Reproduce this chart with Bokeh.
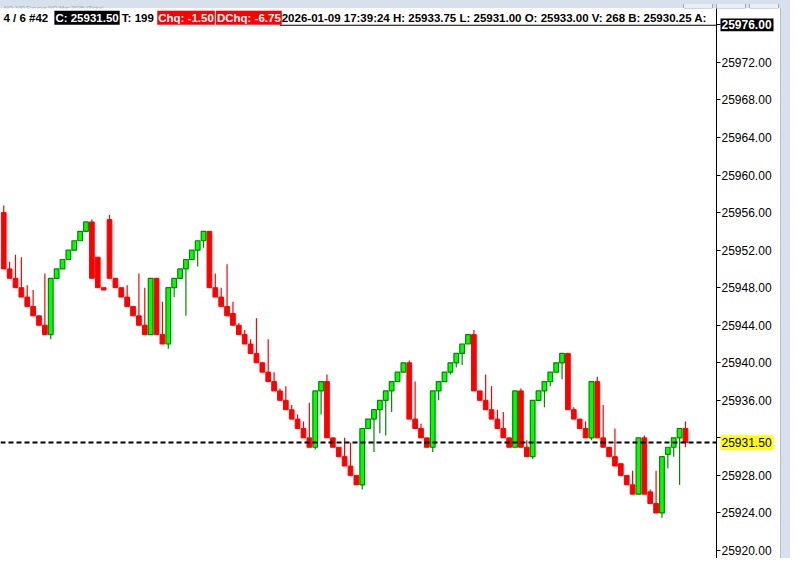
from bokeh.plotting import figure
from bokeh.models import Range1d, Span, Label, FixedTicker, Div, BoxAnnotation, ColumnDataSource
from bokeh.layouts import column, row
from bokeh.core.properties import value
from bokeh.embed import file_html
from bokeh.resources import INLINE

# ---- data (renko-style bars) ----
opens = [25956, 25950, 25949, 25948, 25947, 25946, 25945, 25944, 25943, 25949,
         25950, 25951, 25952, 25953, 25954, 25955, 25951.25, 25948, 25955.25, 25949,
         25948, 25947, 25946, 25945, 25944, 25943, 25949, 25943, 25942, 25948,
         25949, 25950, 25951, 25952, 25953, 25954, 25948, 25947, 25946, 25945.25,
         25944, 25943, 25942, 25941, 25940, 25939, 25938, 25937, 25936, 25935,
         25934, 25933, 25932, 25931, 25937, 25938, 25932, 25931, 25930, 25929,
         25928, 25927, 25933, 25934, 25935, 25936, 25937, 25938, 25939, 25940,
         25934, 25933, 25932, 25931, 25937, 25938, 25939, 25940, 25941, 25942,
         25943, 25937, 25936, 25935, 25934, 25933, 25932, 25931, 25937, 25931,
         25930, 25936, 25937, 25938, 25939, 25940, 25941, 25935, 25934, 25933,
         25932, 25938, 25932, 25931, 25930, 25929.25, 25928, 25927, 25926, 25932,
         25926.25, 25925, 25924, 25930.25, 25931, 25932, 25933]
closes = [25950, 25949, 25948, 25947, 25946, 25945, 25944, 25943, 25949, 25950,
          25951, 25952, 25953, 25954, 25955, 25949, 25948, 25947.75, 25949, 25948,
          25947, 25946, 25945, 25944, 25943, 25949, 25943, 25942, 25948, 25949,
          25950, 25951, 25952, 25953, 25954, 25948, 25947, 25946, 25945, 25944,
          25943, 25942, 25941, 25940, 25939, 25938, 25937, 25936, 25935, 25934,
          25933, 25932, 25931, 25937, 25938, 25932, 25931, 25930, 25929, 25928,
          25927, 25933, 25934, 25935, 25936, 25937, 25938, 25939, 25940, 25934,
          25933, 25932, 25931, 25937, 25938, 25939, 25940, 25941, 25942, 25943,
          25937, 25936, 25935, 25934, 25933, 25932, 25931, 25937, 25931, 25930,
          25936, 25937, 25938, 25939, 25940, 25941, 25935, 25934, 25933, 25932,
          25938, 25932, 25931, 25930, 25929, 25928, 25927, 25926, 25932, 25926,
          25925, 25924, 25930, 25931, 25932, 25933, 25931.5]
highs = [25956.75, 25950.75, 25951.5, 25951.25, 25948.25, 25947.75, 25945, 25949.5, 25949, 25950,
         25951, 25952, 25953, 25954, 25955, 25955.25, 25951.25, 25948, 25955.75, 25949,
         25948, 25948.25, 25946, 25949.5, 25948, 25949, 25949, 25946.5, 25948, 25949,
         25950, 25951, 25952, 25953, 25954, 25954, 25949.5, 25948, 25950.5, 25946.5,
         25944.25, 25943.5, 25942.5, 25944.75, 25940, 25942.5, 25939, 25937.25, 25937.5, 25935.5,
         25934.5, 25933.75, 25935.75, 25937, 25938, 25938.75, 25932, 25931, 25932, 25931.5,
         25928, 25933, 25934, 25935, 25936, 25937, 25938, 25939, 25940, 25940.25,
         25938, 25933.5, 25932, 25937, 25938, 25939, 25940, 25941, 25942, 25943,
         25943.5, 25937, 25938.75, 25937.5, 25935, 25934.75, 25932, 25937, 25937.25, 25931.75,
         25936, 25937, 25938, 25939, 25940, 25941, 25941, 25935.25, 25934, 25933.75,
         25938, 25938.5, 25935.5, 25931, 25933, 25929.25, 25928, 25928.5, 25932, 25932.25,
         25926.5, 25928.5, 25930, 25931, 25932, 25933, 25933.75]
lows = [25950, 25949, 25948, 25947, 25946, 25945, 25944, 25943, 25942.5, 25949,
        25950, 25951, 25952, 25953, 25954, 25949, 25948, 25947.75, 25949, 25948,
        25947, 25946, 25945, 25944, 25943, 25943, 25943, 25942, 25941.5, 25947,
        25949, 25945, 25951, 25950.25, 25952.25, 25948, 25947, 25946, 25945, 25944,
        25943, 25942, 25941, 25940, 25939, 25938, 25937, 25936, 25935, 25934,
        25933, 25932, 25931, 25930.75, 25934.5, 25932, 25931, 25930, 25929, 25928,
        25927, 25926.5, 25933, 25930.5, 25932.5, 25932.25, 25934.75, 25938, 25939, 25934,
        25933, 25932, 25931, 25930.5, 25936, 25938, 25938.75, 25939.5, 25939.75, 25942,
        25937, 25936, 25935, 25934, 25933, 25932, 25931, 25931, 25931, 25930,
        25929.75, 25936, 25935.25, 25937.5, 25939, 25938.25, 25935, 25934, 25933, 25932,
        25931.75, 25932, 25931, 25930, 25929, 25928, 25927, 25926, 25926, 25926,
        25925, 25924, 25923.5, 25928.75, 25930, 25927, 25931]

y_ticks = [25920, 25924, 25928, 25932, 25936, 25940, 25944, 25948, 25952,
           25956, 25960, 25964, 25968, 25972, 25976]
last_price = 25931.50
top_price = 25976.00
header_plain_1 = "4 / 6 #42"
header_close = "C: 25931.50"
header_ticks = "T: 199"
header_chg = "Chq: -1.50"
header_dchg = "DChq: -6.75"
header_rest = "2026-01-09 17:39:24 H: 25933.75 L: 25931.00 O: 25933.00 V: 268 B: 25930.25 A:"
title_text = "NQ 100 Futures  NQ Mar 2026 (Ticks)"

# ---- build ----
idx = list(range(len(opens)))
up = [c >= o for o, c in zip(opens, closes)]
RED = "#ff0000"
GREEN = "#00ff00"
DKGREEN = "#008a00"
FONT = "Liberation Sans"

def subset(flag):
    sel = [i for i in idx if up[i] == flag]
    return ColumnDataSource(dict(
        x=sel,
        top=[max(opens[i], closes[i]) for i in sel],
        bot=[min(opens[i], closes[i]) for i in sel],
        hi=[highs[i] for i in sel],
        lo=[lows[i] for i in sel],
    ))

src_up = subset(True)
src_dn = subset(False)

H = 550
yr = Range1d(25919.15, 25977.74)
p = figure(width=716, height=H, output_backend="svg", toolbar_location=None,
           x_range=Range1d(-0.55, 121.28), y_range=yr,
           x_axis_location=None, y_axis_location=None, tools="")
p.min_border = 0
p.outline_line_color = None
p.grid.visible = False

# wicks
p.segment(x0="x", y0="lo", x1="x", y1="hi", source=src_dn, line_color=RED, line_width=1.2)
p.segment(x0="x", y0="lo", x1="x", y1="hi", source=src_up, line_color=DKGREEN, line_width=1.2)
# bodies
p.vbar(x="x", top="top", bottom="bot", width=0.8, source=src_dn,
       fill_color=RED, line_color=RED, line_width=1)
p.vbar(x="x", top="top", bottom="bot", width=0.8, source=src_up,
       fill_color=GREEN, line_color=DKGREEN, line_width=1.2)

# last price dashed line
p.add_layout(Span(location=last_price, dimension="width", line_color="black",
                  line_width=2, line_dash="5 3"))

# header line
hy = 25976.75
def hl(x, text, color="black", bg=None):
    kw = dict(x=x, y=hy, text=text, text_font=FONT, text_font_size="11.5px",
              text_font_style="bold", text_color=color, text_baseline="middle",
              text_align="left")
    if bg is not None:
        kw.update(background_fill_color=bg, padding=1)
    p.add_layout(Label(**kw))

hl(-0.05, header_plain_1)
hl(8.62, header_close, "white", "black")
hl(20.1, header_ticks)
hl(26.12, header_chg, "white", RED)
hl(36.1, header_dchg, "white", RED)
hl(47.3, header_rest)
p.add_layout(BoxAnnotation(left=47.0, right=121.3, top=25976.02, bottom=25975.90,
                           fill_color="black", fill_alpha=1, line_color=None))

# ---- price scale panel (shares the y range) ----
q = figure(width=64, height=H, output_backend="svg", toolbar_location=None,
           x_range=Range1d(0, 64), y_range=yr, x_axis_location=None,
           y_axis_location="left", tools="")
q.min_border = 0
q.outline_line_color = None
q.grid.visible = False
ax = q.yaxis[0]
ax.ticker = FixedTicker(ticks=y_ticks)
ax.major_label_overrides = {t: "" for t in y_ticks}
ax.major_label_standoff = 0
ax.major_label_text_font_size = "1px"
ax.major_tick_in = 4
ax.major_tick_out = 0
ax.minor_tick_in = 0
ax.minor_tick_out = 0
ax.axis_line_color = "black"
ax.major_tick_line_color = "black"

shown = [t for t in y_ticks if t not in (25932, top_price)]
q.text(x=[5] * len(shown), y=shown, text=[f"{t:.2f}" for t in shown],
       text_font=value(FONT), text_font_size="12px", text_color="black",
       text_baseline="middle", text_align="left")

hi_src = ColumnDataSource(dict(
    y=[top_price, last_price],
    top=[top_price + 0.68, last_price + 0.78],
    bot=[top_price - 0.68, last_price - 0.78],
    text=[f"{top_price:.2f}", f"{last_price:.2f}"],
    fill=["black", "#ffff00"],
    color=["white", "black"],
    style=["bold", "normal"],
))
q.quad(left=4, right=57, top="top", bottom="bot", fill_color="fill", line_color=None, source=hi_src)
q.text(x=5, y="y", text="text", text_color="color", text_font_style="style",
       text_font=value(FONT), text_font_size="12px", text_baseline="middle",
       text_align="left", source=hi_src)

band_html = (
    '<div style="position:relative;width:790px;height:8px;">'
    '<span style="position:absolute;left:4px;top:1px;font-family:\'Liberation Sans\';font-size:6px;line-height:6px;'
    'color:#98a3ae;white-space:nowrap;">' + title_text + '</span>'
    '<span style="position:absolute;left:683px;top:0px;width:30px;height:5px;border:1px solid #9aa8b8;border-top:none;border-radius:0 0 2px 2px;background:#e8eef5;"></span>'
    '<span style="position:absolute;left:716px;top:0px;width:30px;height:5px;border:1px solid #9aa8b8;border-top:none;border-radius:0 0 2px 2px;background:#e8eef5;"></span>'
    '<span style="position:absolute;left:749px;top:0px;width:30px;height:5px;border:1px solid #9aa8b8;border-top:none;border-radius:0 0 2px 2px;background:#e8eef5;"></span>'
    '</div>'
)
band = Div(text=band_html, width=790, height=8, margin=0,
           styles={"background-color": "#d7e1ec"})
strip = Div(text="", width=10, height=H, margin=0,
            styles={"background-color": "#d7e1ec", "border-left": "1px solid #b4c0ce",
                    "box-sizing": "border-box"})

layout = column(band, row(p, q, strip, spacing=0), spacing=0)
open("out.html", "w").write(file_html(layout, INLINE))
